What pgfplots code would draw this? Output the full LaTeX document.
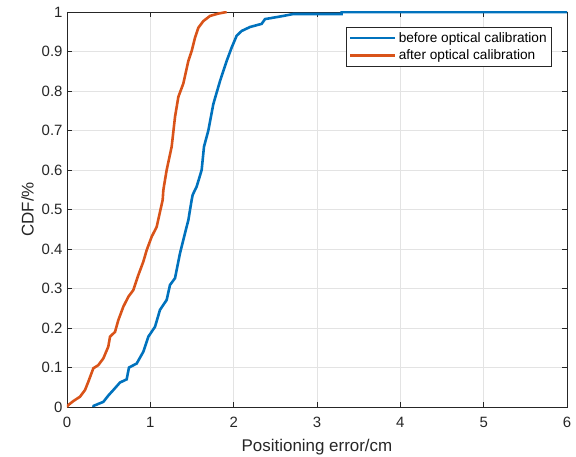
\documentclass[border=0pt]{standalone}
\usepackage{pgfplots}
\pgfplotsset{compat=1.18}
\usepackage{fontspec}
\setmainfont{Liberation Sans}
\definecolor{mblue}{rgb}{0,0.447,0.741}
\definecolor{morange}{rgb}{0.85,0.325,0.098}
\definecolor{axgray}{rgb}{0.15,0.15,0.15}
\begin{document}
\begin{tikzpicture}
\begin{axis}[
  scale only axis, width=500bp, height=395bp,
  xmin=0, xmax=6, ymin=0, ymax=1,
  xtick={0,1,...,6}, ytick={0,0.1,...,1},
  yticklabels={0,0.1,0.2,0.3,0.4,0.5,0.6,0.7,0.8,0.9,1},
  grid=major, grid style={gray!22, line width=0.5pt},
  axis line style={axgray, line width=0.6pt},
  tick style={axgray, line width=0.6pt}, tick align=inside,
  major tick length=5bp,
  ticklabel style={font=\fontsize{15}{17}\selectfont, text=axgray},
  xticklabel style={yshift=-7bp},
  yticklabel style={xshift=-1bp},
  /pgf/number format/assume math mode=true,
  xlabel={Positioning error/cm}, ylabel={CDF/\%},
  label style={font=\fontsize{17}{19}\selectfont, text=axgray},
  xlabel style={yshift=-4bp},
  ylabel style={yshift=1bp},
  legend style={at={(rel axis cs:1,1)}, xshift=-15bp, yshift=-15bp, anchor=north east,
    font=\fontsize{13.7}{16}\selectfont, draw=axgray, line width=0.6pt, inner sep=3bp,
    row sep=2bp},
  legend cell align=left,
  legend image code/.code={\draw[#1, line width=2.6pt] (0cm,0cm) -- (45bp,0cm);},
]
\addplot[mblue, line width=2.6pt] coordinates {
(0.316,0.0) (0.32,0.003) (0.436,0.013) (0.50,0.03) (0.556,0.043) (0.636,0.062) (0.716,0.07)
(0.744,0.10) (0.836,0.11) (0.916,0.14) (0.976,0.178) (1.056,0.203) (1.116,0.246)
(1.196,0.271) (1.236,0.309) (1.296,0.326) (1.356,0.389) (1.416,0.44) (1.456,0.473)
(1.496,0.524) (1.508,0.537) (1.556,0.558) (1.616,0.6) (1.644,0.659) (1.696,0.70)
(1.756,0.767) (1.836,0.825) (1.916,0.876) (1.976,0.91) (2.036,0.94) (2.096,0.952)
(2.196,0.962) (2.336,0.97) (2.376,0.982) (2.596,0.99) (2.716,0.995) (3.296,0.995)
(3.296,1.0) (6.2,1.0)
};
\addlegendentry{before optical calibration}
\addplot[morange, line width=2.6pt] coordinates {
(0.0,0.0) (0.016,0.005) (0.076,0.015) (0.156,0.026) (0.216,0.043) (0.256,0.064)
(0.316,0.098) (0.376,0.106) (0.436,0.123) (0.496,0.153) (0.516,0.178) (0.576,0.19)
(0.616,0.22) (0.676,0.254) (0.736,0.279) (0.796,0.296) (0.856,0.334) (0.916,0.368)
(0.956,0.397) (1.016,0.431) (1.076,0.456) (1.116,0.494) (1.148,0.524) (1.156,0.549)
(1.196,0.6) (1.256,0.659) (1.296,0.734) (1.336,0.785) (1.396,0.819) (1.456,0.876)
(1.496,0.901) (1.536,0.935) (1.576,0.96) (1.636,0.977) (1.716,0.99) (1.816,0.996)
(1.916,1.0)
};
\addlegendentry{after optical calibration}
\end{axis}
\pgfresetboundingbox
\path (-67bp,-50bp) rectangle (509bp,407bp);
\end{tikzpicture}
\end{document}
